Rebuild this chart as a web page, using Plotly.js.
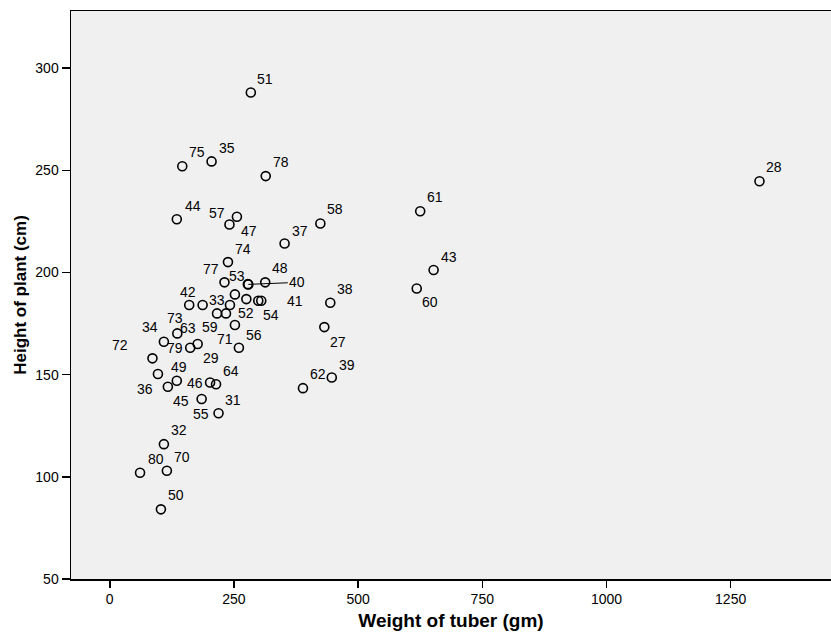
<!DOCTYPE html>
<html>
<head>
<meta charset="utf-8">
<script src="https://cdn.plot.ly/plotly-3.0.1.min.js"></script>
<style>html,body{margin:0;padding:0;background:#fff;}#chart{width:831px;height:640px;}</style>
</head>
<body>
<div id="chart"></div>
<script>
// Case labels (empty string = unlabeled point)
const caseIds = ["51","75","35","78","28","44","57","47","61","58",
                 "37","74","43","77","53","48","40","60","42","33",
                 "38","41","54","52","27","73","34","56","59","64",
                 "31","55","46","49","36","72","79","71","63","29",
                 "45","","","62","39","32","80","70","50"];
// Weight of tuber (gm)
const weight = [284,146,205,314,1308,135,256,241,625,424,
                352,238,652,231,278,313,279,618,160,187,
                444,305,299,252,432,136,109,260,177,214,
                219,185,202,135,117,86,162,234,242,216,
                97,252,275,389,447,109,61,115,103];
// Height of plant (cm)
const height = [288.1,252.0,254.4,247.2,244.7,226.1,227.3,223.5,230.0,224.0,
                214.2,205.1,201.2,195.2,194.3,195.2,194.2,192.2,184.1,184.1,
                185.2,186.2,186.2,174.3,173.3,170.2,166.1,163.2,165.0,145.3,
                131.1,138.1,146.2,147.0,144.1,158.0,163.2,180.0,184.1,180.0,
                150.3,189.3,187.0,143.4,148.6,116.0,102.0,103.0,84.1];

// Label placement offsets in pixels (style only)
const labelDx = [14,15,15,15,15,16,-20,20,15,15,
                 15,15,15,-13,-11,15,49,13,-1,14,
                 15,34,13,11,14,-2,-14,15,12,15,
                 14,-1,-15,2,-23,-32,-15,-1,-42,-6,
                 23,0,0,15,15,15,16,15,15];
const labelDy = [-14,-14,-13,-14,-14,-13,-4,6,-14,-14,
                 -13,-13,-13,-13,-8,-14,-2,14,-13,-5,
                 -14,0,14,-12,15,-15,-15,-13,-17,-13,
                 -13,15,1,-14,2,-13,0,26,23,45,
                 27,0,0,-14,-13,-14,-14,-14,-14];

const FONT = "Arial, 'Liberation Sans', Helvetica, sans-serif";

const trace = {
  type: "scatter",
  mode: "markers",
  x: weight,
  y: height,
  marker: {symbol: "circle-open", size: 9, color: "#000", line: {width: 1.6, color: "#000"}},
  hoverinfo: "x+y",
  showlegend: false
};

const annotations = [];
caseIds.forEach((id, i) => {
  if (!id) return;
  if (id === "40") {
    annotations.push({
      x: weight[i], y: height[i], xref: "x", yref: "y",
      text: id, showarrow: true, arrowhead: 0, arrowwidth: 1, arrowcolor: "#000",
      standoff: 0, startstandoff: 0,
      ax: labelDx[i], ay: labelDy[i],
      font: {family: FONT, size: 14, color: "#000"}
    });
  } else {
    annotations.push({
      x: weight[i], y: height[i], xref: "x", yref: "y",
      text: id, showarrow: false,
      xshift: labelDx[i], yshift: -labelDy[i],
      font: {family: FONT, size: 14, color: "#000"}
    });
  }
});

const layout = {
  width: 831, height: 640,
  margin: {l: 71, r: 0, t: 11, b: 61},
  paper_bgcolor: "#ffffff",
  plot_bgcolor: "#f0f0f0",
  font: {family: FONT, size: 14, color: "#000"},
  xaxis: {
    range: [-78, 1452],
    tickvals: [0, 250, 500, 750, 1000, 1250],
    ticks: "outside", ticklen: 7, tickwidth: 1.5, tickcolor: "#000",
    showline: true, linecolor: "#000", linewidth: 1.5, mirror: true,
    showgrid: false, zeroline: false,
    tickfont: {family: FONT, size: 14, color: "#000"},
    title: {text: "Weight of tuber (gm)", font: {family: FONT, size: 19, color: "#000", weight: "bold"}, standoff: 7}
  },
  yaxis: {
    range: [50, 328],
    tickvals: [50, 100, 150, 200, 250, 300],
    ticks: "outside", ticklen: 8, tickwidth: 1.5, tickcolor: "#000",
    showline: true, linecolor: "#000", linewidth: 1.5, mirror: false,
    showgrid: false, zeroline: false,
    tickfont: {family: FONT, size: 14, color: "#000"},
    title: {text: "Height of plant (cm)", font: {family: FONT, size: 17, color: "#000", weight: "bold"}, standoff: 4}
  },
  annotations: annotations
};

Plotly.newPlot("chart", [trace], layout, {displayModeBar: false, staticPlot: true});
</script>
</body>
</html>
